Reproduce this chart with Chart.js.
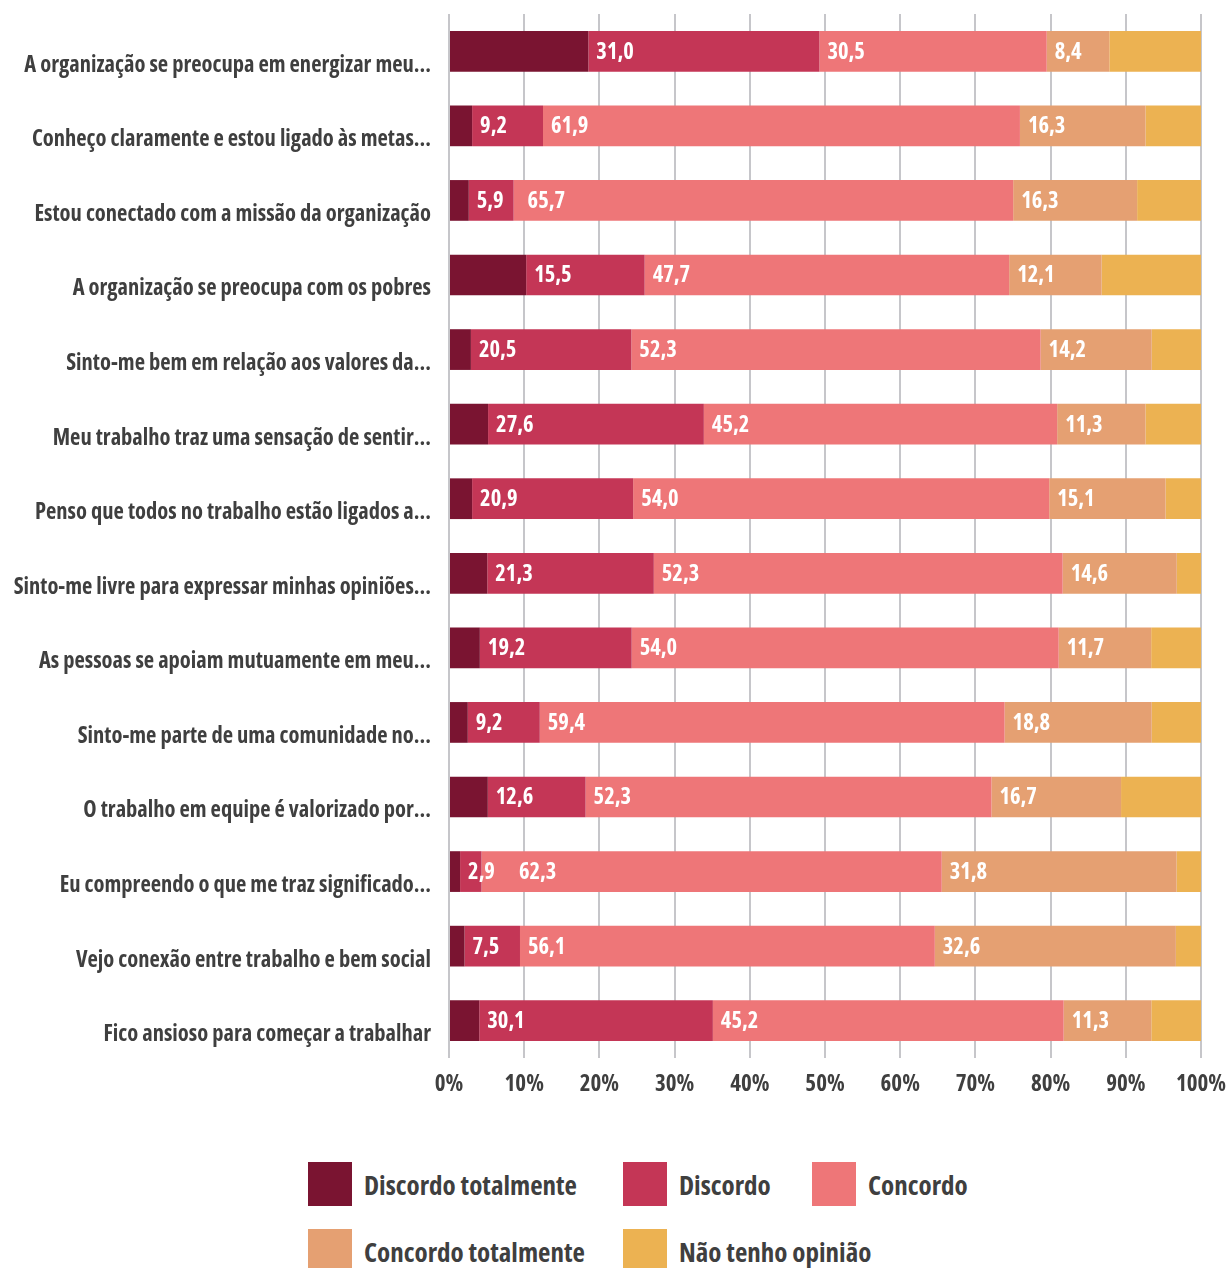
<!DOCTYPE html>
<html>
<head>
<meta charset="utf-8">
<script src="https://cdn.jsdelivr.net/npm/chart.js@4.4.1/dist/chart.umd.min.js"></script>
<style>
  html, body { margin: 0; padding: 0; background: #ffffff; }
  #wrap { position: relative; width: 1227px; height: 1110px; }
  #legend { position: absolute; left: 0; top: 1162px; width: 1227px; height: 106px;
            font-family: 'Open Sans', sans-serif; font-stretch: condensed;
            font-weight: bold; font-size: 27px; color: #3f3f3f; }
  .item { position: absolute; display: flex; align-items: center; height: 44px; white-space: nowrap; }
  .box { width: 44px; height: 44px; margin-right: 12px; flex: none; }
</style>
</head>
<body>
<div id="wrap"><canvas id="chart"></canvas></div>
<div id="legend"></div>
<script>
const categories = [
  'A organização se preocupa em energizar meu...',
  'Conheço claramente e estou ligado às metas...',
  'Estou conectado com a missão da organização',
  'A organização se preocupa com os pobres',
  'Sinto-me bem em relação aos valores da...',
  'Meu trabalho traz uma sensação de sentir...',
  'Penso que todos no trabalho estão ligados a...',
  'Sinto-me livre para expressar minhas opiniões...',
  'As pessoas se apoiam mutuamente em meu...',
  'Sinto-me parte de uma comunidade no...',
  'O trabalho em equipe é valorizado por...',
  'Eu compreendo o que me traz significado...',
  'Vejo conexão entre trabalho e bem social',
  'Fico ansioso para começar a trabalhar'
];
const seriesNames = ['Discordo totalmente', 'Discordo', 'Concordo', 'Concordo totalmente', 'Não tenho opinião'];
const discordoTotalmente = [18.7, 3.0, 2.6, 10.1, 2.8, 5.0, 3.0, 4.9, 3.9, 2.4, 5.0, 1.5, 2.1, 3.9];
const discordo           = [31.0, 9.2, 5.9, 15.5, 20.5, 27.6, 20.9, 21.3, 19.2, 9.2, 12.6, 2.9, 7.5, 30.1];
const concordo           = [30.5, 61.9, 65.7, 47.7, 52.3, 45.2, 54.0, 52.3, 54.0, 59.4, 52.3, 62.3, 56.1, 45.2];
const concordoTotalmente = [8.4, 16.3, 16.3, 12.1, 14.2, 11.3, 15.1, 14.6, 11.7, 18.8, 16.7, 31.8, 32.6, 11.3];
const naoTenhoOpiniao    = [12.3, 7.2, 8.4, 13.0, 6.3, 7.1, 4.6, 3.1, 6.3, 6.3, 10.3, 3.3, 3.4, 6.4];
const tickLabels = ['0%', '10%', '20%', '30%', '40%', '50%', '60%', '70%', '80%', '90%', '100%'];
const colors = ['#7a1431', '#c43656', '#ee7678', '#e5a072', '#ecb252'];
const labelled = [false, true, true, true, false];

const rawSeries = [discordoTotalmente, discordo, concordo, concordoTotalmente, naoTenhoOpiniao];
const totals = categories.map((_, i) => rawSeries.reduce((s, arr) => s + arr[i], 0));
const FONT = "'Open Sans', sans-serif";
const WEIGHT = 'bold condensed';
const TEXT = '#3f3f3f';

Chart.defaults.font.family = FONT;
Chart.defaults.font.weight = WEIGHT;
Chart.defaults.color = TEXT;

const datasets = rawSeries.map((arr, k) => ({
  label: seriesNames[k],
  data: arr.map((v, i) => v / totals[i] * 100),
  raw: arr,
  showValue: labelled[k],
  backgroundColor: colors[k],
  borderWidth: 0,
  barPercentage: 0.546,
  categoryPercentage: 1.0
}));

const valueLabels = {
  id: 'valueLabels',
  afterDatasetsDraw(chart) {
    const ctx = chart.ctx;
    ctx.save();
    ctx.font = "normal " + WEIGHT + " 22.5px " + FONT;
    ctx.fillStyle = '#ffffff';
    ctx.textAlign = 'left';
    ctx.textBaseline = 'middle';
    const prevEnd = {};
    chart.data.datasets.forEach((ds, di) => {
      if (!ds.showValue) return;
      const meta = chart.getDatasetMeta(di);
      meta.data.forEach((el, i) => {
        const left = Math.min(el.base, el.x);
        const txt = ds.raw[i].toFixed(1).replace('.', ',');
        let x = left + 8;
        if (prevEnd[i] !== undefined) x = Math.max(x, prevEnd[i] + 24);
        ctx.fillText(txt, x, el.y + 1);
        prevEnd[i] = x + ctx.measureText(txt).width;
      });
    });
    ctx.restore();
  }
};

const chart = new Chart(document.getElementById('chart'), {
  type: 'bar',
  data: { labels: categories, datasets },
  options: {
    indexAxis: 'y',
    responsive: true,
    maintainAspectRatio: false,
    animation: false,
    layout: { padding: { top: 14, right: 26, bottom: 0, left: 0 } },
    plugins: { legend: { display: false }, tooltip: { enabled: false } },
    scales: {
      x: {
        stacked: true,
        min: 0, max: 100,
        ticks: {
          stepSize: 10,
          padding: 13,
          font: { size: 23, weight: WEIGHT },
          color: TEXT,
          maxRotation: 0,
          callback: (v, idx) => tickLabels[idx]
        },
        grid: { color: '#c6c6ca', lineWidth: 2, drawTicks: false },
        border: { display: false },
        afterFit(scale) { scale.height = 52; scale.paddingLeft = 0; scale.paddingRight = 0; }
      },
      y: {
        stacked: true,
        ticks: {
          padding: 18,
          labelOffset: 14,
          font: { size: 22.5, weight: WEIGHT },
          color: TEXT,
          autoSkip: false
        },
        grid: { display: false, drawTicks: false },
        border: { display: false },
        afterFit(scale) { scale.width = 449; scale.paddingTop = 0; scale.paddingBottom = 0; }
      }
    }
  },
  plugins: [valueLabels]
});

// HTML legend built from the chart's datasets
const legendPos = [[308, 0], [623, 0], [812, 0], [308, 67], [623, 67]];
const legendEl = document.getElementById('legend');
chart.data.datasets.forEach((ds, k) => {
  const item = document.createElement('div');
  item.className = 'item';
  item.style.left = legendPos[k][0] + 'px';
  item.style.top = legendPos[k][1] + 'px';
  const box = document.createElement('span');
  box.className = 'box';
  box.style.background = ds.backgroundColor;
  const lab = document.createElement('span');
  lab.textContent = ds.label;
  item.appendChild(box);
  item.appendChild(lab);
  legendEl.appendChild(item);
});
</script>
</body>
</html>
